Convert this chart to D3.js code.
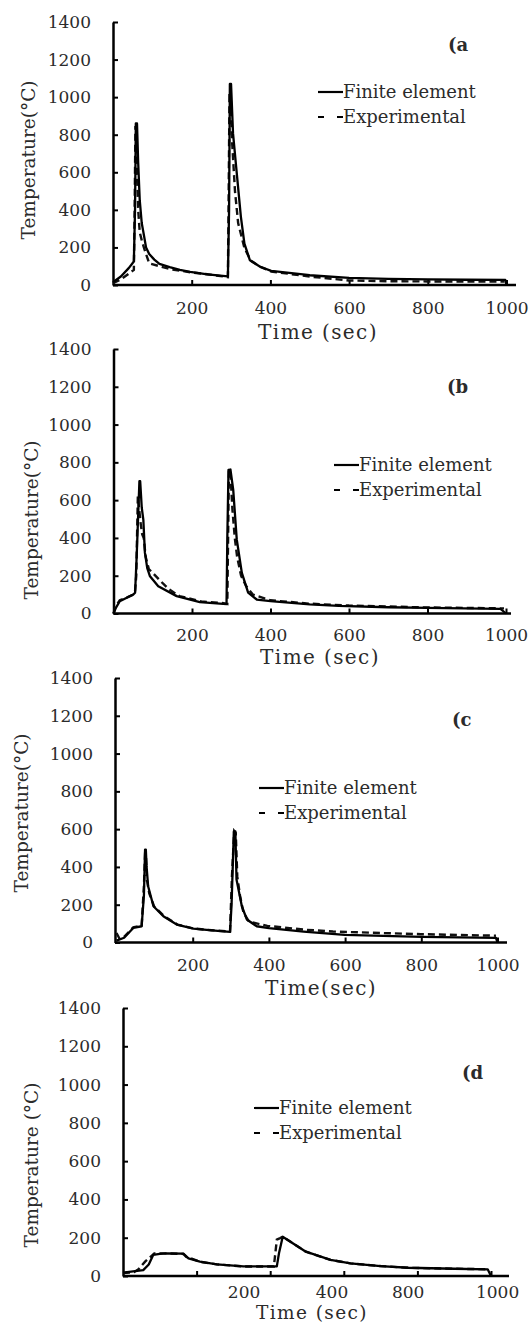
<!doctype html>
<html lang="en">
<head>
  <meta charset="utf-8">
  <title>Temperature history</title>
  <style>
    * { margin: 0; padding: 0; box-sizing: border-box; }
    body { background: #fff; }
    svg text { font-family: 'DejaVu Serif', 'Liberation Serif', serif; fill: #2b2b2b; }
  </style>
</head>
<body>
  <div id="container"></div>
  <script src="https://cdn.jsdelivr.net/npm/d3@7/dist/d3.min.js"></script>
  <script>
    // [time (sec), temperature (C)]
    const feA = [[0,15],[20,45],[40,90],[53,125],[56,400],[58,860],[61,860],[64,650],[68,450],[73,330],[79,260],[84,200],[92,165],[105,135],[118,112],[144,95],[170,80],[196,70],[240,57],[292,46],[295,400],[297,1070],[300,1070],[305,807],[313,629],[325,363],[334,220],[348,131],[374,97],[402,75],[500,52],[600,38],[700,33],[800,30],[900,28],[997,27],[1000,0]];
    const expA = [[0,10],[20,30],[41,62],[53,80],[55,400],[57,840],[59,840],[61,600],[64,400],[68,280],[74,230],[80,190],[92,115],[118,100],[144,85],[196,68],[240,57],[292,42],[294,500],[296,1010],[299,1010],[303,750],[310,500],[318,330],[334,197],[350,130],[376,95],[402,72],[500,45],[600,24],[700,20],[800,19],[900,18],[995,18]];

    const feB = [[0,0],[6,30],[16,65],[35,85],[50,100],[55,110],[59,300],[66,700],[68,700],[72,560],[76,497],[80,322],[86,240],[93,197],[114,144],[161,92],[220,60],[288,50],[290,400],[293,760],[298,762],[305,656],[314,392],[327,215],[343,110],[365,74],[400,66],[500,48],[574,40],[700,33],[800,30],[986,25],[1000,0]];
    const expB = [[0,0],[6,40],[16,70],[35,85],[50,100],[55,120],[58,200],[62,620],[65,560],[69,480],[73,420],[77,400],[82,300],[90,235],[100,215],[116,180],[140,130],[168,92],[224,64],[281,55],[290,50],[292,400],[294,760],[298,740],[303,550],[309,400],[315,300],[325,200],[338,145],[355,100],[400,70],[500,52],[600,42],[800,32],[995,27]];

    const feC = [[0,10],[20,25],[44,77],[66,86],[72,250],[75,492],[77,492],[79,400],[83,298],[97,192],[123,139],[158,95],[202,74],[250,64],[298,56],[302,200],[308,588],[312,588],[315,333],[329,192],[342,122],[368,86],[400,76],[491,58],[599,40],[802,30],[996,24],[1000,0]];
    const expC = [[0,50],[8,20],[20,30],[44,80],[66,90],[72,300],[75,470],[77,470],[80,330],[86,260],[99,190],[125,140],[160,95],[202,74],[250,65],[298,58],[303,350],[309,590],[313,580],[317,350],[324,250],[333,160],[348,110],[396,88],[493,68],[568,58],[700,50],[799,44],[900,40],[996,36]];

    const feD = [[0,18],[55,31],[70,60],[82,110],[100,116],[118,118],[164,117],[178,92],[209,75],[255,61],[327,50],[418,50],[424,120],[434,205],[497,127],[564,84],[618,66],[700,52],[775,43],[900,38],[991,35],[1000,0]];
    const expD = [[0,15],[30,20],[42,35],[60,75],[85,118],[118,118],[164,115],[172,100],[185,92],[209,74],[255,61],[327,50],[410,50],[414,120],[418,190],[427,198],[434,205],[497,127],[564,84],[618,66],[700,52],[775,43],[900,38],[991,35]];

    const yTicks = [0, 200, 400, 600, 800, 1000, 1200, 1400];
    const xTicks = [200, 400, 600, 800, 1000];
    const xTickLabels = ['200', '400', '600', '800', '1000'];
    // panel (d) prints its labels off the tick positions
    const dTickLabels = ['200', '400', '800', '1000'];
    const dTickLabelAt = [329, 568, 775, 1018];
    const seriesNames = ['Finite element', 'Experimental'];
    const panelTags = ['(a', '(b', '(c', '(d'];

    const W = 531, H = 1325;
    const svg = d3.select('#container').append('svg')
      .attr('width', W)
      .attr('height', H);

    const panels = [
      { fe: feA, exp: expA, tag: panelTags[0], ax: 113, x0: 113, x1: 506.5, xEnd: 516, yTop: 22, yBot: 285,
        tagX: 448, tagY: 45, legX: 318, legY: 92, yTitle: 'Temperature(°C)', yTitleX: 29, yTitleY: 160,
        xTitle: 'Time (sec)', xTitleX: 318, xTitleY: 332, xTitleSize: 20, labDy: 23 },
      { fe: feB, exp: expB, tag: panelTags[1], ax: 113.5, x0: 113.5, x1: 506, xEnd: 511, yTop: 349, yBot: 613.5,
        tagX: 447, tagY: 387, legX: 334, legY: 465, yTitle: 'Temperature(°C)', yTitleX: 32, yTitleY: 520,
        xTitle: 'Time (sec)', xTitleX: 320, xTitleY: 657, xTitleSize: 20, labDy: 22 },
      { fe: feC, exp: expC, tag: panelTags[2], ax: 115, x0: 116.5, x1: 497.5, xEnd: 507, yTop: 678, yBot: 942.5,
        tagX: 452, tagY: 720, legX: 259, legY: 788, yTitle: 'Temperature(°C)', yTitleX: 22, yTitleY: 813,
        xTitle: 'Time(sec)', xTitleX: 321, xTitleY: 988, xTitleSize: 20, labDy: 23 },
      { fe: feD, exp: expD, tag: panelTags[3], ax: 123, x0: 123, x1: 491, xEnd: 509, yTop: 1008, yBot: 1276,
        tagX: 462, tagY: 1073, legX: 254, legY: 1108, yTitle: 'Temperature (°C)', yTitleX: 32, yTitleY: 1165,
        xTitle: 'Time (sec)', xTitleX: 312, xTitleY: 1313, xTitleSize: 18.5, labDy: 16, custom: true }
    ];

    panels.forEach(p => {
      const g = svg.append('g');

      const x = d3.scaleLinear().domain([0, 1000]).range([p.x0, p.x1]);
      const y = d3.scaleLinear().domain([0, 1400]).range([p.yBot, p.yTop]);

      // y axis, ticks pointing inward
      const ya = g.append('g')
        .attr('transform', `translate(${p.ax},0)`)
        .call(d3.axisLeft(y).tickValues(yTicks).tickFormat(d3.format('d'))
          .tickSize(-5).tickSizeOuter(0).tickPadding(22));
      ya.select('.domain').attr('stroke', '#000').attr('stroke-width', 2.5);
      ya.selectAll('.tick line').attr('stroke', '#000').attr('stroke-width', 2);
      ya.selectAll('.tick text').style('font-size', '17px').attr('fill', '#2b2b2b');

      // x axis
      const xa = d3.axisBottom(x).tickValues(xTicks).tickSize(-5).tickSizeOuter(0)
        .tickFormat((d, i) => p.custom ? '' : xTickLabels[i]);
      const xg = g.append('g')
        .attr('transform', `translate(0,${p.yBot})`)
        .call(xa);
      xg.select('.domain').remove();
      xg.selectAll('.tick line').attr('stroke', '#000').attr('stroke-width', 2);
      xg.selectAll('.tick text').attr('y', p.labDy).attr('dy', '0.35em')
        .style('font-size', '17px').attr('fill', '#2b2b2b');
      g.append('line')
        .attr('x1', p.ax).attr('x2', p.xEnd)
        .attr('y1', p.yBot).attr('y2', p.yBot)
        .attr('stroke', '#000').attr('stroke-width', 2.5);

      if (p.custom) {
        g.selectAll('.dlab').data(dTickLabels).enter().append('text')
          .attr('x', (d, i) => x(dTickLabelAt[i]))
          .attr('y', p.yBot + p.labDy)
          .attr('dy', '0.35em')
          .attr('text-anchor', 'middle')
          .style('font-size', '17px')
          .text(d => d);
      }

      // series
      const line = d3.line().x(d => x(d[0])).y(d => y(d[1]));
      g.append('path').datum(p.exp)
        .attr('d', line)
        .attr('fill', 'none').attr('stroke', '#111').attr('stroke-width', 2.4)
        .attr('stroke-dasharray', '7,4');
      g.append('path').datum(p.fe)
        .attr('d', line)
        .attr('fill', 'none').attr('stroke', '#000').attr('stroke-width', 2.3)
        .attr('stroke-linejoin', 'round');

      // legend
      const lg = g.append('g').attr('transform', `translate(${p.legX},${p.legY})`);
      lg.append('line').attr('x1', 0).attr('x2', 25).attr('y1', 0).attr('y2', 0)
        .attr('stroke', '#000').attr('stroke-width', 2.2);
      lg.append('line').attr('x1', 0).attr('x2', 25).attr('y1', 25).attr('y2', 25)
        .attr('stroke', '#000').attr('stroke-width', 2.2).attr('stroke-dasharray', '6,13');
      lg.selectAll('text').data(seriesNames).enter().append('text')
        .attr('x', 25)
        .attr('y', (d, i) => i * 25)
        .attr('dy', '0.35em')
        .style('font-size', '18px')
        .text(d => d);

      g.append('text')
        .attr('x', p.tagX).attr('y', p.tagY)
        .attr('dy', '0.35em')
        .style('font-size', '18px').style('font-weight', 'bold')
        .attr('fill', '#000')
        .text(p.tag);

      g.append('text')
        .attr('transform', `translate(${p.yTitleX},${p.yTitleY}) rotate(-90)`)
        .attr('text-anchor', 'middle')
        .attr('dy', '0.35em')
        .style('font-size', '18.5px')
        .text(p.yTitle);

      g.append('text')
        .attr('x', p.xTitleX).attr('y', p.xTitleY)
        .attr('text-anchor', 'middle')
        .attr('dy', '0.35em')
        .style('font-size', p.xTitleSize + 'px').style('letter-spacing', '1.4px')
        .text(p.xTitle);
    });
  </script>
</body>
</html>
